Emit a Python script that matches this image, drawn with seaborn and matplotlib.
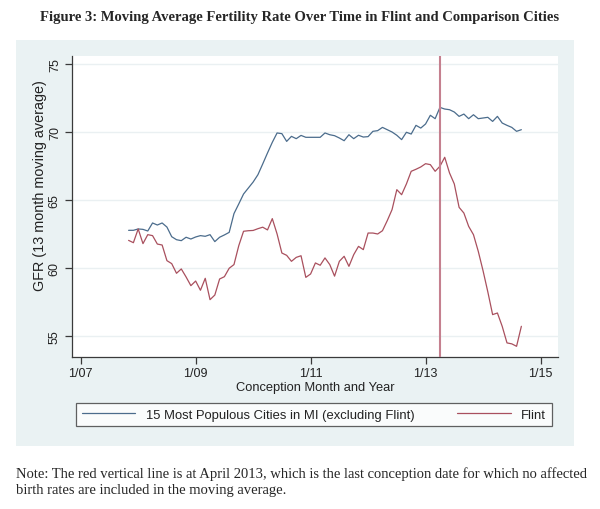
import matplotlib
matplotlib.use("Agg")
import matplotlib.pyplot as plt
import seaborn as sns
import pandas as pd
from matplotlib.patches import Rectangle
from matplotlib.lines import Line2D

# ---- data -------------------------------------------------------------
# conception month, counted in months since January 2007
months = list(range(10, 93))

cities15 = [62.77, 62.77, 62.87, 62.84, 62.72, 63.31, 63.16, 63.31, 63.01, 62.30,
            62.08, 62.01, 62.26, 62.13, 62.28, 62.38, 62.33, 62.45, 61.94, 62.26,
            62.43, 62.62, 64.00, 64.71, 65.44, 65.88, 66.32, 66.86, 67.65, 68.46,
            69.24, 69.93, 69.88, 69.31, 69.68, 69.51, 69.75, 69.61, 69.61, 69.61,
            69.61, 69.93, 69.80, 69.73, 69.56, 69.36, 69.80, 69.51, 69.76, 69.63,
            69.66, 70.05, 70.10, 70.34, 70.17, 70.00, 69.76, 69.44, 69.98, 69.85,
            70.49, 70.29, 70.59, 71.23, 70.98, 71.81, 71.69, 71.64, 71.47, 71.15,
            71.32, 70.98, 71.27, 70.98, 71.03, 71.08, 70.78, 71.15, 70.66, 70.49,
            70.34, 70.05, 70.17]

flint = [62.03, 61.86, 62.87, 61.79, 62.45, 62.38, 61.76, 61.69, 60.54, 60.32,
         59.61, 59.93, 59.34, 58.70, 59.04, 58.36, 59.24, 57.67, 58.01, 59.19,
         59.36, 59.98, 60.25, 61.64, 62.70, 62.74, 62.76, 62.89, 63.00, 62.80,
         63.63, 62.50, 61.10, 60.93, 60.49, 60.78, 60.90, 59.31, 59.56, 60.37,
         60.20, 60.74, 60.25, 59.40, 60.49, 60.86, 60.12, 60.98, 61.59, 61.35,
         62.57, 62.57, 62.50, 62.74, 63.48, 64.29, 65.76, 65.39, 66.18, 67.11,
         67.26, 67.43, 67.67, 67.60, 67.11, 67.48, 68.14, 66.99, 66.18, 64.46,
         64.04, 63.06, 62.45, 61.23, 59.80, 58.24, 56.57, 56.69, 55.71, 54.49,
         54.42, 54.24, 55.71]

series_names = ["15 Most Populous Cities in MI (excluding Flint)", "Flint"]
x_tick_months = [0, 24, 48, 72, 96]
x_tick_labels = ["1/07", "1/09", "1/11", "1/13", "1/15"]
y_ticks = [55, 60, 65, 70, 75]
cutoff_month = 75  # April 2013

title = "Figure 3: Moving Average Fertility Rate Over Time in Flint and Comparison Cities"
note1 = ("Note: The red vertical line is at April 2013, which is the last conception "
         "date for which no affected")
note2 = "birth rates are included in the moving average."

# ---- style ------------------------------------------------------------
sns.set_theme(style="white")
plt.rcParams['font.family'] = ['Liberation Sans', 'DejaVu Sans']

blue = "#4B6C8C"
red = "#A9505E"
vline_color = "#C5808F"
bg = "#EAF2F3"
axis_color = "#3A3A3A"

df = pd.DataFrame({
    "month": months + months,
    "gfr": cities15 + flint,
    "series": [series_names[0]] * len(months) + [series_names[1]] * len(months),
})

fig = plt.figure(figsize=(6, 5.1), dpi=100)
fig.patch.set_facecolor("white")
fig.patches.append(Rectangle((16 / 600, 1 - 447 / 510), (574 - 16) / 600, (447 - 41) / 510,
                             transform=fig.transFigure, facecolor=bg, edgecolor="none",
                             zorder=-10))

ax = fig.add_axes([71.7 / 600, 1 - 357.5 / 510, (558 - 71.7) / 600, (357.5 - 57) / 510])
ax.set_facecolor("white")

sns.lineplot(data=df, x="month", y="gfr", hue="series", hue_order=series_names,
             palette=[blue, red], linewidth=0.9, ax=ax, legend=False)
ax.axvline(cutoff_month, color=vline_color, lw=1.5, zorder=3)

ax.set_xlim(-1.88, 99.65)
ax.set_ylim(53.49, 75.59)
ax.set_xticks(x_tick_months)
ax.set_xticklabels(x_tick_labels)
ax.set_yticks(y_ticks)
ax.set_yticklabels([str(v) for v in y_ticks], rotation=90, va="center")

ax.yaxis.grid(True, color="#EAF0F2", lw=1.0)
ax.xaxis.grid(False)
ax.set_axisbelow(True)

for s in ["top", "right"]:
    ax.spines[s].set_visible(False)
for s in ["left", "bottom"]:
    ax.spines[s].set_color(axis_color)
    ax.spines[s].set_linewidth(0.9)

ax.tick_params(axis="both", direction="out", length=4.8, width=0.9, color=axis_color,
               labelsize=9, labelcolor="#222222", pad=3, left=True, bottom=True)

ax.set_xlabel("Conception Month and Year", fontsize=9.3, color="#222222", labelpad=1.5)
ax.set_ylabel("GFR (13 month moving average)", fontsize=10.4, color="#222222", labelpad=1)
ax.yaxis.label.set_y(0.571)

handles = [Line2D([0], [0], color=blue, lw=0.9), Line2D([0], [0], color=red, lw=0.9)]
leg = fig.legend(handles, series_names, loc="center",
                 bbox_to_anchor=(76 / 600, 1 - 428 / 510, 476 / 600, 25 / 510),
                 mode="expand", ncol=2, frameon=True, fancybox=False,
                 edgecolor=axis_color, facecolor="white", fontsize=9.4,
                 handlelength=4.1, handletextpad=0.8, borderaxespad=0, borderpad=0.45)
leg.get_frame().set_linewidth(0.9)
for t in leg.get_texts():
    t.set_color("#222222")

fig.text(0.5, 1 - 17 / 510, title, ha="center", va="center", fontsize=10.5,
         fontweight="bold", family=["Liberation Serif", "DejaVu Serif"])
fig.text(16 / 600, 1 - 474 / 510, note1, ha="left", va="center", fontsize=10.5,
         family=["Liberation Serif", "DejaVu Serif"])
fig.text(16 / 600, 1 - 491 / 510, note2, ha="left", va="center", fontsize=10.5,
         family=["Liberation Serif", "DejaVu Serif"])

fig.savefig("out.png", dpi=100)
